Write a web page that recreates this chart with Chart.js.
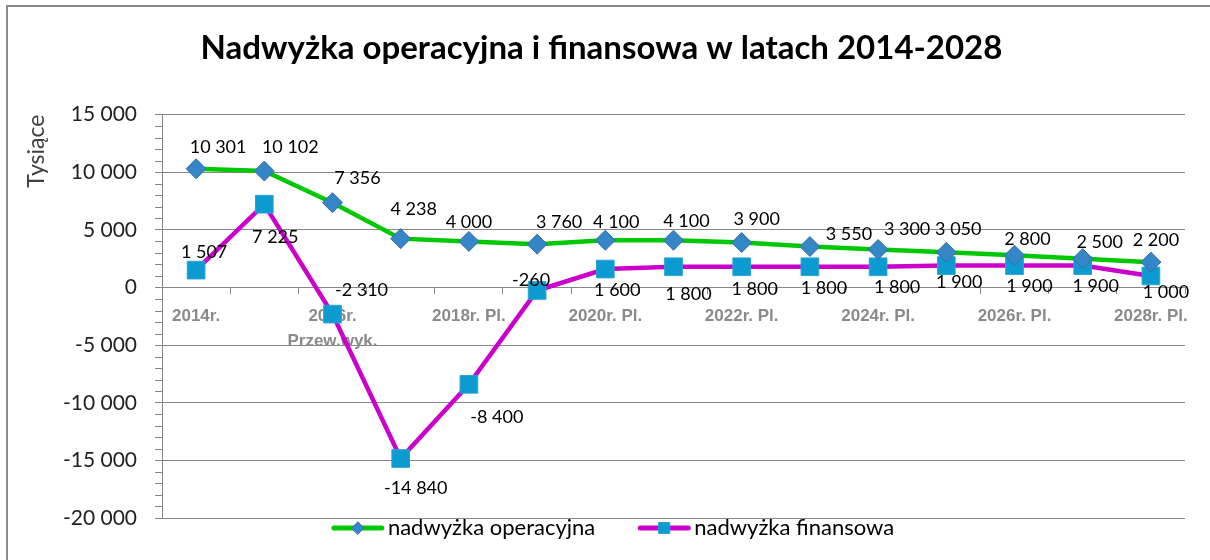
<!DOCTYPE html>
<html>
<head>
<meta charset="utf-8">
<script src="https://cdn.jsdelivr.net/npm/chart.js@4.4.1/dist/chart.umd.min.js"></script>
<style>
  body { margin: 0; background: #fff; }
  canvas { display: block; }
</style>
</head>
<body>
<canvas id="myChart" width="1210" height="560"></canvas>
<script>
// dane
const years = ['2014r.', '2015r.', ['2016r.', 'Przew.wyk.'], '2017r. Pl.', '2018r. Pl.', '2019r. Pl.',
    '2020r. Pl.', '2021r. Pl.', '2022r. Pl.', '2023r. Pl.', '2024r. Pl.', '2025r. Pl.',
    '2026r. Pl.', '2027r. Pl.', '2028r. Pl.'];
const operacyjna = [10301, 10102, 7356, 4238, 4000, 3760, 4100, 4100, 3900, 3550, 3300, 3050, 2800, 2500, 2200];
const finansowa = [1507, 7225, -2310, -14840, -8400, -260, 1600, 1800, 1800, 1800, 1800, 1900, 1900, 1900, 1000];
const yMin = -20000;
const yMax = 15000;
const yStep = 5000;
const yMinorStep = 1000;

// przesunięcia etykiet danych (styl)
const opLabelOffsets = [[22, -22], [26, -24], [25, -25], [13, -29], [0, -19], [22, -22], [11, -18], [13, -19],
    [15, -23], [39, -12], [29, -20], [12, -23], [13, -16], [17, -16], [5, -22]];
const finLabelOffsets = [[8, -18], [11, 33], [29, -24], [15, 30], [28, 33], [-6, -10], [12, 21], [15, 27],
    [13, 22], [14, 21], [19, 20], [13, 17], [15, 21], [13, 21], [15, 16]];

function formatNumber(v) {
    const s = String(Math.abs(v)).replace(/\B(?=(\d{3})+(?!\d))/g, ' ');
    return (v < 0 ? '-' : '') + s;
}

const gridColor = '#878787';

const framePlugin = {
    id: 'frame',
    beforeDraw(chart) {
        const ctx = chart.ctx;
        ctx.save();
        ctx.fillStyle = '#fff';
        ctx.fillRect(0, 0, chart.width, chart.height);
        ctx.strokeStyle = '#8a8a8a';
        ctx.lineWidth = 2;
        ctx.strokeRect(7, 6, chart.width + 20, chart.height + 20);
        ctx.restore();
    }
};

const minorTicksPlugin = {
    id: 'minorTicks',
    afterDraw(chart) {
        const y = chart.scales.y;
        const ctx = chart.ctx;
        ctx.save();
        ctx.strokeStyle = gridColor;
        ctx.lineWidth = 1;
        for (let v = yMin; v <= yMax; v += yMinorStep) {
            if (v % yStep === 0) continue;
            const py = Math.round(y.getPixelForValue(v)) + 0.5;
            ctx.beginPath();
            ctx.moveTo(y.right - 7, py);
            ctx.lineTo(y.right, py);
            ctx.stroke();
        }
        ctx.restore();
    }
};

const dataLabelsPlugin = {
    id: 'dataLabels',
    afterDatasetsDraw(chart) {
        const ctx = chart.ctx;
        ctx.save();
        ctx.font = '18px Lato';
        ctx.fillStyle = '#000';
        ctx.textAlign = 'center';
        ctx.textBaseline = 'middle';
        chart.data.datasets.forEach((ds, di) => {
            const meta = chart.getDatasetMeta(di);
            const offsets = ds.labelOffsets;
            meta.data.forEach((pt, i) => {
                const off = offsets[i];
                ctx.fillText(formatNumber(ds.data[i]), pt.x + off[0], pt.y + off[1]);
            });
        });
        ctx.restore();
    }
};

const legendPlugin = {
    id: 'customLegend',
    afterDraw(chart) {
        const ctx = chart.ctx;
        ctx.save();
        ctx.font = '22px Lato';
        ctx.textBaseline = 'middle';
        const lineLen = 52;
        const gap = 4;
        const itemGap = 43;
        const items = chart.data.datasets.map(ds => ({ ds, w: lineLen + gap + ctx.measureText(ds.label).width }));
        const total = items.reduce((a, it) => a + it.w, 0) + itemGap * (items.length - 1);
        let x = 613 - total / 2;
        const y = 528;
        items.forEach(it => {
            const ds = it.ds;
            ctx.strokeStyle = ds.borderColor;
            ctx.lineWidth = 5;
            ctx.lineCap = 'round';
            ctx.beginPath();
            ctx.moveTo(x + 2, y);
            ctx.lineTo(x + lineLen - 2, y);
            ctx.stroke();
            ctx.fillStyle = ds.pointBackgroundColor;
            ctx.strokeStyle = ds.pointBorderColor;
            ctx.lineWidth = 1;
            Chart.helpers.drawPoint(ctx, { pointStyle: ds.pointStyle, radius: ds.pointRadius * 0.62, borderWidth: 1 }, x + lineLen / 2, y);
            ctx.fillStyle = '#000';
            ctx.textAlign = 'left';
            ctx.fillText(ds.label, x + lineLen + gap, y);
            x += it.w + itemGap;
        });
        ctx.restore();
    }
};

const ctx = document.getElementById('myChart').getContext('2d');
const myChart = new Chart(ctx, {
    type: 'line',
    data: {
        labels: years,
        datasets: [{
            label: 'nadwyżka operacyjna',
            data: operacyjna,
            borderColor: '#00c800',
            borderWidth: 4.5,
            tension: 0,
            pointStyle: 'rectRot',
            pointRadius: 10,
            pointBackgroundColor: '#3486c6',
            pointBorderColor: '#3a6ea4',
            pointBorderWidth: 1,
            labelOffsets: opLabelOffsets
        }, {
            label: 'nadwyżka finansowa',
            data: finansowa,
            borderColor: '#cc00cc',
            borderWidth: 4.5,
            tension: 0,
            pointStyle: 'rect',
            pointRadius: 12.5,
            pointBackgroundColor: '#0c9bd1',
            pointBorderColor: '#2aa3d4',
            pointBorderWidth: 1,
            labelOffsets: finLabelOffsets
        }]
    },
    options: {
        responsive: false,
        animation: false,
        devicePixelRatio: 1,
        layout: { padding: { left: 18, right: 25, top: 0, bottom: 42 } },
        plugins: {
            legend: { display: false },
            tooltip: { enabled: false },
            title: {
                display: true,
                text: 'Nadwyżka operacyjna i finansowa w latach 2014-2028',
                color: '#000',
                font: { family: 'Lato', size: 33, weight: 'bold', lineHeight: 1.2 },
                padding: { top: 29, bottom: 46 }
            }
        },
        scales: {
            x: {
                position: { y: 0 },
                offset: true,
                grid: { offset: true, drawOnChartArea: false, drawTicks: true, tickLength: 6, color: gridColor },
                border: { color: gridColor, width: 1 },
                ticks: {
                    autoSkip: false,
                    maxRotation: 0,
                    padding: 10,
                    color: '#8a8a8a',
                    font: { family: 'Liberation Sans', size: 17, weight: 'bold', lineHeight: 1.47 },
                    callback: function (value, index) {
                        return index % 2 === 0 ? this.getLabelForValue(value) : '';
                    }
                }
            },
            y: {
                min: yMin,
                max: yMax,
                afterFit(scale) { scale.width = 144; },
                grid: { color: gridColor, tickLength: 7, drawTicks: true },
                border: { color: gridColor, width: 1 },
                ticks: {
                    stepSize: yStep,
                    padding: 18,
                    color: '#222',
                    font: { family: 'Lato', size: 21 },
                    callback: v => formatNumber(v)
                },
                title: {
                    display: true,
                    text: 'Tysiące',
                    align: 'end',
                    color: '#404040',
                    font: { family: 'Lato', size: 23 },
                    padding: { top: 5, bottom: 0 }
                }
            }
        }
    },
    plugins: [framePlugin, minorTicksPlugin, dataLabelsPlugin, legendPlugin]
});
</script>
</body>
</html>
